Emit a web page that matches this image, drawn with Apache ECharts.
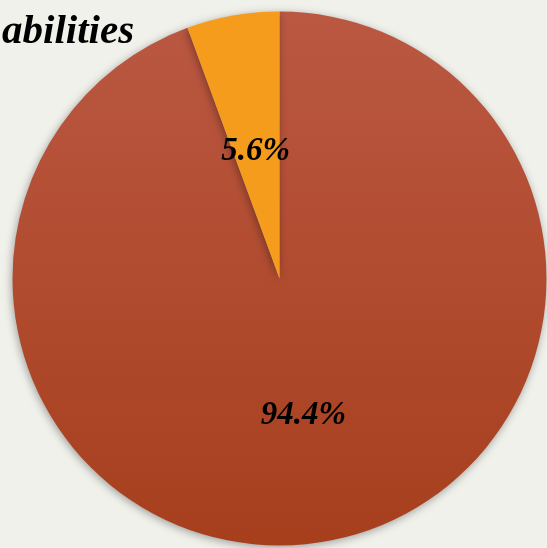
<!DOCTYPE html>
<html>
<head>
<meta charset="utf-8">
<style>
  html, body { margin: 0; padding: 0; background: #f1f1ec; }
  #chart { width: 547px; height: 548px; }
</style>
<script src="https://cdn.jsdelivr.net/npm/echarts@6/dist/echarts.min.js"></script>
</head>
<body>
<div id="chart"></div>
<script>
// Slice names and shares (percent)
var categories = ['Majority', 'Minority'];
var shares = [94.4, 5.6];
var sliceColors = [
  new echarts.graphic.LinearGradient(0, 0, 0, 1, [
    { offset: 0, color: '#ba5842' },
    { offset: 1, color: '#a73f1d' }
  ]),
  '#f69c1d'
];
var titleText = 'abilities';

var serif = '"Palatino Linotype", "Book Antiqua", Palatino, "Liberation Serif", serif';
// small downward nudge for each inside label
var labelShiftY = [3, 7];

var chart = echarts.init(document.getElementById('chart'), null, { renderer: 'canvas' });
chart.setOption({
  backgroundColor: '#f1f1ec',
  animation: false,
  title: {
    text: titleText,
    left: -3,
    top: 7,
    textStyle: {
      fontFamily: serif,
      fontStyle: 'italic',
      fontWeight: 'bold',
      fontSize: 41,
      color: '#000'
    }
  },
  series: [{
    type: 'pie',
    center: [279.5, 278.5],
    radius: [0, 267],
    startAngle: 90,
    clockwise: true,
    data: categories.map(function (c, i) {
      return { name: c, value: shares[i], itemStyle: { color: sliceColors[i] } };
    }),
    itemStyle: {
      shadowBlur: 8,
      shadowColor: 'rgba(0,0,0,0.35)',
      shadowOffsetX: -1,
      shadowOffsetY: 2
    },
    label: {
      show: true,
      position: 'inside',
      formatter: function (p) { return shares[p.dataIndex].toFixed(1) + '%'; },
      fontFamily: serif,
      fontStyle: 'italic',
      fontWeight: 'bold',
      fontSize: 33,
      color: '#000'
    },
    labelLayout: function (p) { return { dy: labelShiftY[p.dataIndex] }; },
    labelLine: { show: false },
    emphasis: { disabled: true }
  }]
});
</script>
</body>
</html>
